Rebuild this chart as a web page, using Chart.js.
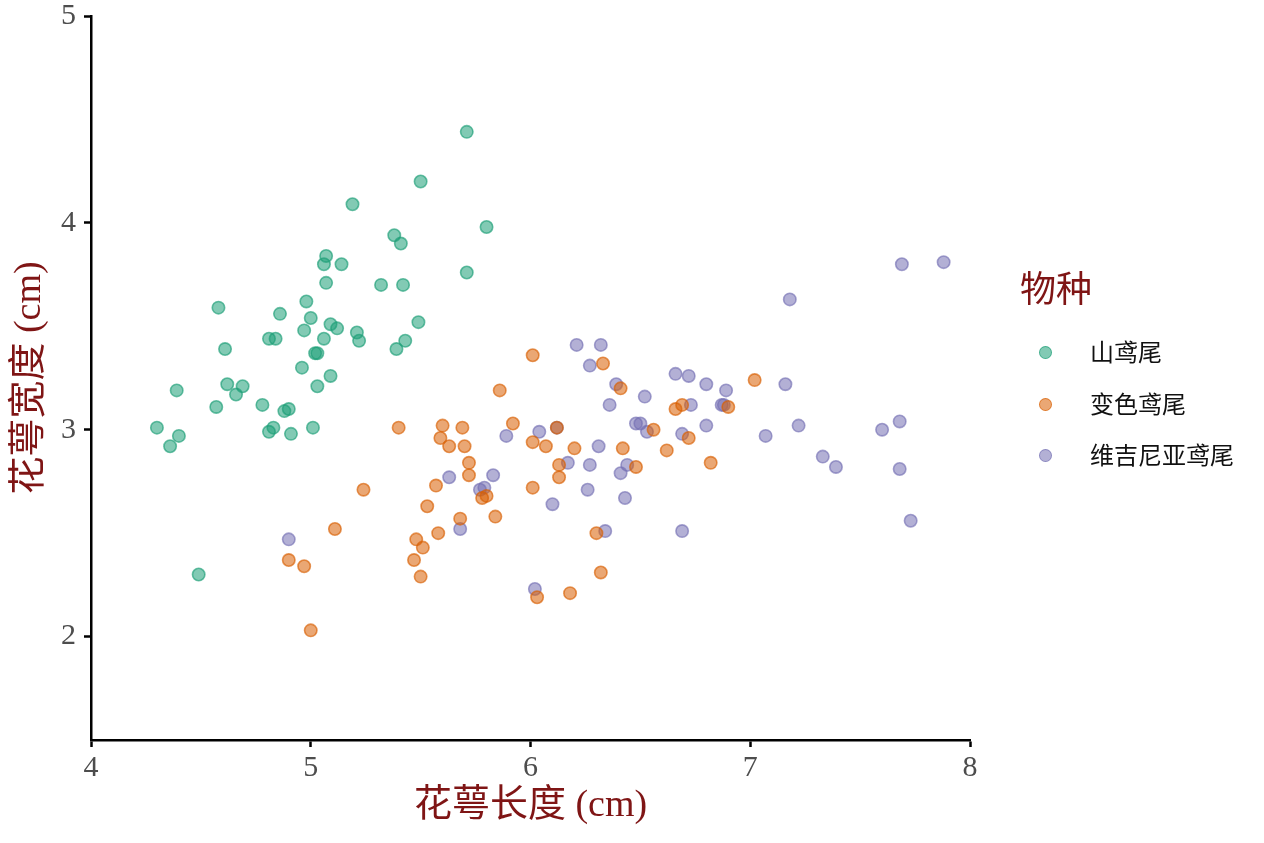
<!DOCTYPE html>
<html>
<head>
<meta charset="utf-8">
<script src="https://cdn.jsdelivr.net/npm/chart.js@4"></script>
<style>
  html, body { margin: 0; padding: 0; background: #fff; }
  .wrap { position: relative; width: 1264px; height: 843px; }
  .legend { position: absolute; left: 1020px; top: 0; font-family: "Liberation Serif", "Noto Sans CJK SC", serif; }
  .legend__title { position: absolute; left: 0; top: 272px; font-size: 36px; line-height: 36px; color: #7f1515; white-space: nowrap; }
  .legend__item { position: absolute; left: 0; height: 24px; white-space: nowrap; }
  .legend__dot { position: absolute; left: 19px; top: 5px; width: 11px; height: 11px; border-radius: 50%; border-width: 1.5px; border-style: solid; }
  .legend__label { position: absolute; left: 70px; top: 0; font-size: 24px; line-height: 24px; color: #111; }
</style>
</head>
<body>
<div class="wrap">
  <canvas id="chart" width="1264" height="843"></canvas>
  <div class="legend js-legend"></div>
</div>
<script>
const species = ['山鸢尾', '变色鸢尾', '维吉尼亚鸢尾'];
const legendTitle = '物种';
const xTitle = '花萼长度 (cm)';
const yTitle = '花萼宽度 (cm)';
const xTicks = [4, 5, 6, 7, 8];
const yTicks = [2, 3, 4, 5];

const setosaLength = [5.71, 5.50, 5.19, 5.80, 5.38, 5.41, 5.07, 5.06, 5.14, 5.71, 5.07, 5.32, 5.42, 4.58, 4.98, 4.86, 5.00, 5.49, 5.09, 5.12, 4.97, 5.21, 5.22, 5.43, 5.06, 4.81, 4.84, 5.39, 4.61, 5.02, 5.03, 4.96, 5.09, 5.03, 4.39, 4.62, 4.69, 4.66, 4.57, 4.78, 4.88, 4.90, 4.30, 4.40, 4.36, 4.81, 4.83, 4.91, 5.01, 4.49];
const setosaWidth = [4.44, 4.20, 4.09, 3.98, 3.94, 3.90, 3.84, 3.80, 3.80, 3.76, 3.71, 3.70, 3.70, 3.59, 3.62, 3.56, 3.54, 3.52, 3.51, 3.49, 3.48, 3.47, 3.43, 3.43, 3.44, 3.44, 3.44, 3.39, 3.39, 3.37, 3.37, 3.30, 3.26, 3.21, 3.19, 3.22, 3.21, 3.17, 3.11, 3.12, 3.09, 3.10, 3.01, 2.97, 2.92, 2.99, 3.01, 2.98, 3.01, 2.30];

const versicolorLength = [5.40, 5.60, 5.69, 5.59, 5.63, 5.70, 5.72, 5.72, 5.57, 5.24, 5.53, 5.78, 5.80, 5.68, 5.11, 5.58, 5.48, 5.51, 5.47, 5.50, 4.90, 4.97, 5.00, 5.84, 6.01, 6.33, 5.86, 6.41, 5.92, 6.01, 6.07, 6.20, 6.42, 6.13, 6.13, 6.48, 6.01, 6.30, 6.32, 6.03, 6.18, 6.12, 7.02, 6.66, 6.69, 6.90, 6.56, 6.72, 6.62, 6.82];
const versicolorWidth = [3.01, 3.02, 3.01, 2.96, 2.92, 2.92, 2.84, 2.78, 2.73, 2.71, 2.63, 2.67, 2.68, 2.57, 2.52, 2.50, 2.47, 2.43, 2.37, 2.29, 2.37, 2.34, 2.03, 2.58, 3.36, 3.32, 3.19, 3.20, 3.03, 2.94, 2.92, 2.91, 2.91, 2.83, 2.77, 2.82, 2.72, 2.50, 2.31, 2.19, 2.21, 3.01, 3.24, 3.10, 3.12, 3.11, 3.00, 2.96, 2.90, 2.84];

const virginicaLength = [5.63, 5.79, 5.77, 5.68, 4.90, 6.21, 6.32, 6.27, 6.39, 6.36, 6.48, 5.89, 6.04, 6.12, 6.31, 6.17, 6.27, 6.44, 6.41, 5.83, 6.26, 6.10, 6.43, 6.34, 6.02, 6.66, 6.72, 6.80, 6.89, 6.52, 6.73, 6.88, 6.87, 6.50, 6.53, 6.69, 6.80, 6.69, 7.69, 7.88, 7.18, 7.16, 7.07, 7.22, 7.33, 7.39, 7.60, 7.68, 7.68, 7.73];
const virginicaWidth = [2.77, 2.72, 2.71, 2.52, 2.47, 3.41, 3.41, 3.31, 3.22, 3.12, 3.03, 2.97, 2.99, 3.01, 2.92, 2.84, 2.83, 2.83, 2.79, 2.78, 2.71, 2.64, 2.67, 2.51, 2.23, 3.27, 3.26, 3.22, 3.19, 3.16, 3.12, 3.12, 3.12, 3.03, 2.99, 2.98, 3.02, 2.51, 3.80, 3.81, 3.63, 3.22, 2.97, 3.02, 2.87, 2.82, 3.00, 3.04, 2.81, 2.56];

const lengths = [setosaLength, versicolorLength, virginicaLength];
const widths = [setosaWidth, versicolorWidth, virginicaWidth];
const colors = ['27, 158, 119', '217, 95, 2', '117, 112, 179'];

const serif = '"Liberation Serif", "Noto Sans CJK SC", serif';
const titleRed = '#7f1515';

const toPoints = (xs, ys) => xs.map((x, i) => ({ x, y: ys[i] }));

const datasets = species.map((name, i) => ({
  label: name,
  data: toPoints(lengths[i], widths[i]),
  backgroundColor: `rgba(${colors[i]}, 0.55)`,
  borderColor: `rgba(${colors[i]}, 0.65)`,
  borderWidth: 1.6,
  pointRadius: 6.2,
  pointHoverRadius: 6.2,
}));

const fixedTicks = (values) => (axis) => {
  axis.ticks = values.map((value) => ({ value }));
};

const htmlLegend = {
  id: 'htmlLegend',
  afterUpdate(chart) {
    const root = document.querySelector('.js-legend');
    root.innerHTML = '';
    const title = document.createElement('div');
    title.className = 'legend__title';
    title.textContent = legendTitle;
    root.appendChild(title);
    chart.data.datasets.forEach((ds, i) => {
      const item = document.createElement('div');
      item.className = 'legend__item';
      item.style.top = `${341 + i * 51.7}px`;
      const dot = document.createElement('span');
      dot.className = 'legend__dot';
      dot.style.background = ds.backgroundColor;
      dot.style.borderColor = ds.borderColor;
      const label = document.createElement('span');
      label.className = 'legend__label';
      label.textContent = ds.label;
      item.append(dot, label);
      root.appendChild(item);
    });
  },
};

new Chart(document.getElementById('chart'), {
  type: 'scatter',
  data: { datasets },
  plugins: [htmlLegend],
  options: {
    responsive: false,
    animation: false,
    layout: { padding: { top: 16, right: 294, left: 0, bottom: 0 } },
    plugins: {
      legend: { display: false },
      tooltip: { enabled: false },
    },
    scales: {
      x: {
        type: 'linear',
        min: 4,
        max: 8,
        afterBuildTicks: fixedTicks(xTicks),
        afterFit: (scale) => { scale.height = 103; },
        grid: { drawOnChartArea: false, drawTicks: true, tickLength: 7, tickColor: '#000', tickWidth: 2.5 },
        border: { display: true, color: '#000', width: 2.5 },
        ticks: { font: { family: serif, size: 30, lineHeight: 1 }, color: '#4d4d4d', padding: 6, maxRotation: 0 },
        title: { display: true, text: xTitle, color: titleRed, font: { family: serif, size: 38 }, padding: { top: 0, bottom: 14 } },
      },
      y: {
        type: 'linear',
        min: 1.5,
        max: 5,
        afterBuildTicks: fixedTicks(yTicks),
        afterFit: (scale) => {
          scale.width = 91;
          scale.paddingTop = 0;
          scale.paddingBottom = 0;
        },
        grid: { drawOnChartArea: false, drawTicks: true, tickLength: 7, tickColor: '#000', tickWidth: 2.5 },
        border: { display: true, color: '#000', width: 2.5 },
        ticks: { font: { family: serif, size: 30, lineHeight: 1 }, color: '#4d4d4d', padding: 8 },
        title: { display: true, text: yTitle, color: titleRed, font: { family: serif, size: 38 }, padding: { top: 7, bottom: 0 } },
      },
    },
  },
});
</script>
</body>
</html>
